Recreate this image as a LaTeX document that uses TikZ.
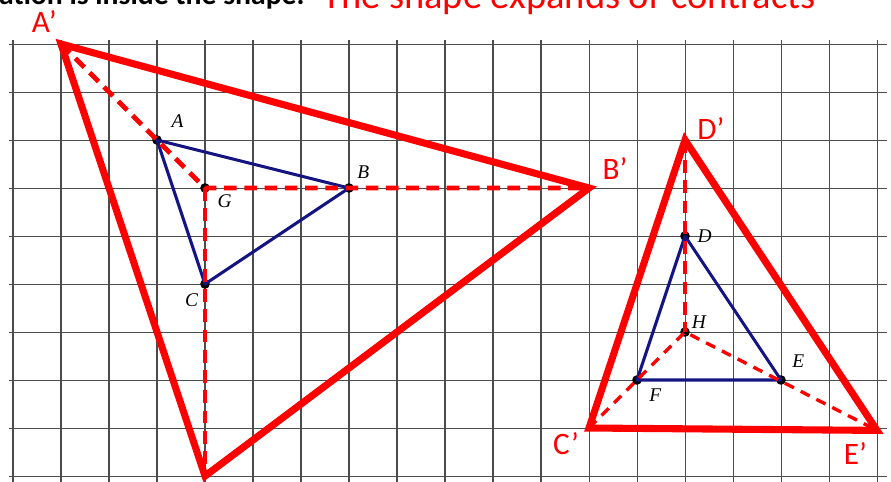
\documentclass[tikz,border=0pt]{standalone}
\usepackage{fontspec}
\setmainfont{Carlito}
\newfontfamily\tnr{Liberation Serif}
\usetikzlibrary{positioning, calc}

\begin{document}
\begin{tikzpicture}[gridln/.style={draw=black!70, line width=0.6pt},
  vtx/.style={circle, fill=black, inner sep=0pt, minimum size=0.2cm},
  orig/.style={draw={rgb,255:red,20;green,20;blue,130}, line width=1.8pt, line join=round},
  img/.style={draw=red, line width=4.2pt},
  ray/.style={draw=red, line width=2.8pt, dash pattern=on 7.5pt off 4.5pt},
  thinray/.style={draw=red, line width=2pt, dash pattern=on 6pt off 4.5pt},
  lbl/.style={font=\tnr\itshape\fontsize{11.5}{12}\selectfont, inner sep=0pt},
  plbl/.style={text=red, font=\fontsize{18.5}{20}\selectfont, inner sep=0pt}]
\useasboundingbox (-0.2708,0.9167) rectangle (18.2917,-9.1042);
% grid
\foreach \i in {0,...,18} \draw[gridln] (\i,0.08) -- (\i,-9.2);
\foreach \j in {0,...,9} \draw[gridln] (-0.08,-\j) -- (18.2,-\j);
% heading
\node[anchor=base east, font=\bfseries\fontsize{17.6}{19}\selectfont, inner sep=0pt] (note) at (6.08,0.83) {ation is inside the shape.};
\node[anchor=base west, text=red, font=\fontsize{22.8}{24}\selectfont, inner sep=0pt] (ttl) at (6.44,0.75) {The shape expands or contracts};
% left: centre G
\node[vtx] (A) at (3,-2) {}; \node[vtx] (B) at (7,-3) {}; \node[vtx] (C) at (4,-5) {}; \node[vtx] (G) at (4,-3) {};
\coordinate (Ap) at (1,0); \coordinate (Bp) at (12,-3); \coordinate (Cp) at (4,-9);
\draw[orig] (A.center) -- (B.center) -- (C.center) -- cycle;
\draw[ray] (Ap) -- (G.center) -- (Bp); \draw[ray] (G.center) -- (Cp);
\draw[img] (Ap) -- (Bp) -- (Cp) -- cycle;
% right: centre H
\node[vtx] (D) at (14,-4) {}; \node[vtx] (E) at (16,-7) {}; \node[vtx] (F) at (13,-7) {}; \node[vtx] (H) at (14,-6) {};
\coordinate (Dp) at (14,-2); \coordinate (Ep) at (18,-8.05); \coordinate (Fp) at (12,-8);
\draw[orig] (D.center) -- (E.center) -- (F.center) -- cycle;
\draw[ray, line width=2.3pt] (Dp) -- (H.center);
\draw[thinray] (Fp) -- (H.center) -- (Ep);
\draw[img] (Dp) -- (Ep) -- (Fp) -- cycle;
% labels
\node[lbl] at (3.43,-1.61) {A}; \node[lbl] at (7.30,-2.66) {B}; \node[lbl] at (3.72,-5.33) {C}; \node[lbl] at (4.41,-3.28) {G};
\node[lbl] at (14.41,-4.01) {D}; \node[lbl] at (16.36,-6.61) {E}; \node[lbl] at (13.38,-7.31) {F}; \node[lbl] at (14.29,-5.79) {H};
\node[plbl] at (0.65,0.46) {A’}; \node[plbl] at (12.54,-2.60) {B’}; \node[plbl] at (14.54,-1.77) {D’};
\node[plbl] at (11.52,-8.33) {C’}; \node[plbl] at (17.55,-8.53) {E’};
\end{tikzpicture}
\end{document}
